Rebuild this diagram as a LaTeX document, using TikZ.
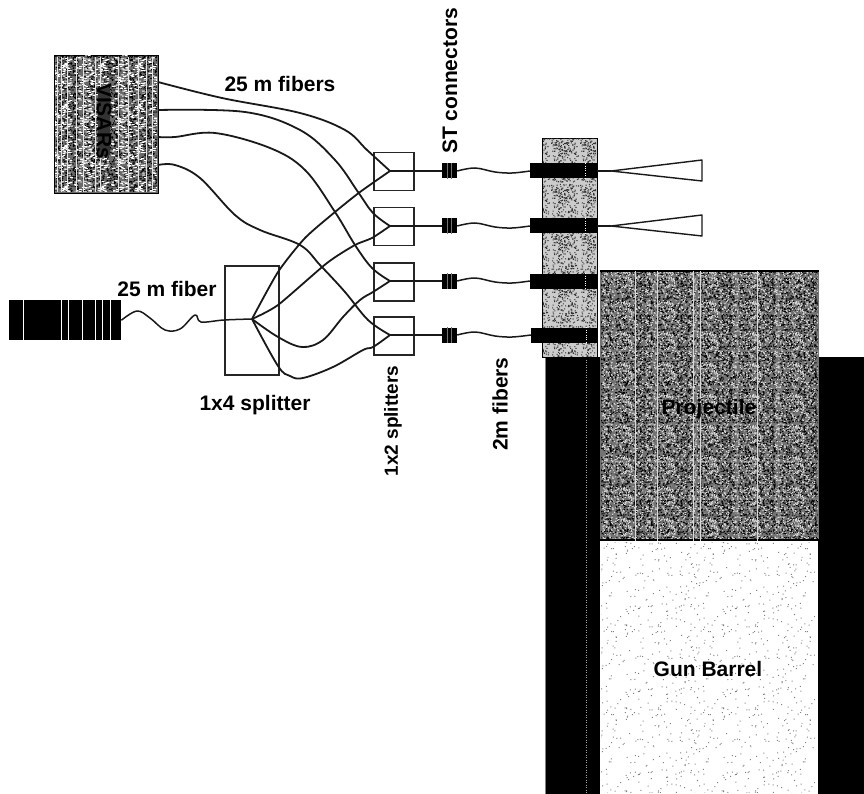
\documentclass[tikz,border=0pt]{standalone}
\usepackage{fontspec}
\setmainfont{Liberation Sans}
\usetikzlibrary{patterns}
% name, tile width, tile height, count, speck width, speck height
\newcommand{\rsNoise}[6]{\pgfdeclarepatternformonly{#1}{\pgfqpoint{0pt}{0pt}}{\pgfqpoint{#2pt}{#3pt}}{\pgfqpoint{#2pt}{#3pt}}{%
  \foreach \i in {1,...,#4}{%
    \pgfmathsetmacro\rsxa{rnd*(#2-#5)}\pgfmathsetmacro\rsya{rnd*(#3-#6)}%
    \pgfpathrectangle{\pgfpoint{\rsxa pt}{\rsya pt}}{\pgfqpoint{#5pt}{#6pt}}\pgfusepath{fill}}}}
\rsNoise{rsdark}{41}{37}{380}{1.2}{1.1}
\rsNoise{rslight}{43}{31}{240}{1.2}{1.1}
\rsNoise{rswide}{37}{41}{170}{2.6}{1}
\rsNoise{rsgrain}{29}{47}{260}{1.1}{1.1}
\rsNoise{rssparse}{97}{83}{170}{1}{1}
\tikzset{
  lab/.style={font=\fontsize{21}{24}\selectfont\bfseries,inner sep=0pt,text=black},
  fib/.style={draw=black!90,line width=1.8pt,line join=round},
  thin fib/.style={draw=black!90,line width=1.5pt,line join=round},
  sbox/.style={draw=black!85,line width=1.5pt,fill=white,minimum width=40pt,minimum height=38pt,inner sep=0pt},
  conn/.style={fill=black,draw=none,minimum width=15pt,minimum height=15pt,inner sep=0pt},
  plug/.style={fill=black,draw=none,minimum width=67pt,minimum height=15pt,inner sep=0pt},
  cone/.style={draw=black!90,line width=1.4pt,fill=white,line join=round},
  wl/.style={draw=white,line width=.9pt}
}
\begin{document}
\begin{tikzpicture}[x=1pt,y=-1pt]
\useasboundingbox (0,0) rectangle (864,794);
\pgfmathsetseed{4711}
% barrel walls
\fill[black] (545,357) rectangle (600,794);
\fill[black] (818,357) rectangle (864,794);
\draw[gray,line width=.8pt] (545.4,357) -- (545.4,794);
\draw[gray!70,line width=.5pt,dotted] (586,357) -- (586,794);
% collar
\node[draw=black,line width=1.3pt,fill=black!20,minimum width=55pt,minimum height=219pt,inner sep=0pt,anchor=north west] (collar) at (542,138) {};
\fill[pattern=rsgrain,pattern color=black!80] (543,139) rectangle (596,356);
% projectile
\node[fill=black!55,minimum width=219pt,minimum height=270pt,inner sep=0pt,anchor=north west] (proj) at (600,270) {};
\fill[pattern=rsdark,pattern color=black] (601,271) rectangle (818,539);
\fill[pattern=rslight,pattern color=white!85!black] (601,271) rectangle (818,539);
\draw[black,line width=2pt] (600,271) -- (819,271);
\draw[black,line width=2pt] (600,539.5) -- (819,539.5);
\foreach \x in {635,657,693,700,757}{\draw[white!85!black,line width=.8pt] (\x,271) -- (\x,542);}
% barrel
\node[fill=white,minimum width=216pt,minimum height=253pt,inner sep=0pt,anchor=north west] (barrel) at (600,541) {};
\fill[pattern=rssparse,pattern color=black!50] (601,542) rectangle (815,792);
% source box
\node[fill=black!58,draw=black,line width=1.3pt,minimum width=104pt,minimum height=138pt,inner sep=0pt,anchor=north west] (src) at (54,55) {};
\fill[pattern=rsdark,pattern color=black] (55,56) rectangle (157,192);
\fill[pattern=rswide,pattern color=white] (55,56) rectangle (157,192);
\foreach \x in {57,61,67,76,83,95,100,118,128,138,146,152}{\draw[white!90!black,line width=.8pt] (\x,57) -- (\x,192);}
\fill[black!80] (98,88) rectangle (110,155);
% laser box
\node[fill=black,minimum width=112pt,minimum height=40pt,inner sep=0pt,anchor=north west] (las) at (9,300) {};
\foreach \x in {23,61,68,82,95,102,110}{\draw[wl] (\x,300) -- (\x,340);}
% 1x4 splitter
\node[draw=black!85,line width=1.5pt,fill=white,minimum width=54pt,minimum height=109pt,inner sep=0pt,anchor=north west] (sfour) at (224,265) {};
\coordinate (hub) at (252,319);
% 1x2 splitters
\node[sbox,anchor=north west] (s1) at (373,152) {};
\node[sbox,anchor=north west] (s2) at (373,207) {};
\node[sbox,anchor=north west] (s3) at (373,262) {};
\node[sbox,anchor=north west] (s4) at (373,316) {};
\coordinate (t1) at (390,171);
\coordinate (t2) at (390,226);
\coordinate (t3) at (390,281);
\coordinate (t4) at (390,335);
% connectors and plugs
\node[conn] (c1) at (449.5,171) {};
\node[conn] (c2) at (449.5,226) {};
\node[conn] (c3) at (449.5,281) {};
\node[conn] (c4) at (449.5,335) {};
\node[plug] (p1) at (563.5,171) {};
\node[plug] (p2) at (563.5,226) {};
\node[plug] (p3) at (563.5,281) {};
\node[plug] (p4) at (564.5,335) {};
\foreach \p in {p1,p2,p3,p4}{\draw[white,line width=.4pt,dotted] ([xshift=22pt]\p.north) -- ([xshift=22pt]\p.south);}
\foreach \p in {c1,c2,c3,c4}{\draw[black!55,line width=.4pt] ([xshift=-2pt]\p.north) -- ([xshift=-2pt]\p.south);\draw[black!55,line width=.4pt] ([xshift=2pt]\p.north) -- ([xshift=2pt]\p.south);}
% cones
\node[coordinate] (k1) at (611,171) {};
\node[coordinate] (k2) at (611,226) {};
\draw[cone] (k1) -- (702,160) -- (702,181) -- cycle;
\draw[cone] (k2) -- (702,215) -- (702,236) -- cycle;
\draw[thin fib] (p1.east) -- (k1);
\draw[thin fib] (p2.east) -- (k2);
% fibers: source to 1x2
\coordinate (a1) at (158,82);
\coordinate (a2) at (158,110);
\coordinate (a3) at (158,137);
\coordinate (a4) at (158,165);
\draw[fib] plot[smooth,tension=.6] coordinates {(a1) (222,98) (300,113) (345,130) (367,150) (t1)};
\draw[fib] plot[smooth,tension=.6] coordinates {(a2) (245,112) (300,130) (335,160) (358,192) (373,213) (t2)};
\draw[fib] plot[smooth,tension=.6] coordinates {(a3) (175,137) (215,133) (270,148) (305,170) (335,212) (355,245) (372,268) (t3)};
\draw[fib] plot[smooth,tension=.6] coordinates {(a4) (175,165) (200,178) (235,215) (260,230) (300,245) (320,265) (345,292) (368,320) (t4)};
% fibers: 1x4 to 1x2
\draw[fib] plot[smooth,tension=.4] coordinates {(hub) (278,272) (305,238) (335,212) (360,192) (t1)};
\draw[fib] plot[smooth,tension=.4] coordinates {(hub) (278,305) (327,263) (355,245) (372,238) (t2)};
\draw[fib] plot[smooth,tension=.6] coordinates {(hub) (278,337) (302,347) (323,340) (343,317) (360,300) (373,292) (t3)};
\draw[fib] plot[smooth,tension=.6] coordinates {(hub) (278,366) (290,376) (303,378) (333,367) (363,350) (373,347) (t4)};
% input fiber
\draw[thin fib] plot[smooth,tension=.6] coordinates {(las.east) (137,311) (150,318) (165,330) (180,329) (195,315) (201,322) (224,320) (hub)};
% output fibers
\foreach \i/\w in {1/171,2/226,3/281,4/335}{
  \draw[thin fib] (t\i) -- (c\i.west);
  \pgfmathsetmacro\wa{\w-3}\pgfmathsetmacro\wb{\w+1}\pgfmathsetmacro\wc{\w+2}
  \draw[thin fib] plot[smooth,tension=.6] coordinates {(c\i.east) (475,\wa) (495,\wb) (512,\wc) (p\i.west)};
}
% labels
\node[lab] (l1) at (280,84) {25 m fibers};
\node[lab] (l2) at (167,289) {25 m fiber};
\node[lab] (l3) at (255,405) {1x4 splitter};
\node[lab,rotate=90] (l4) at (450,81) {ST connectors};
\node[lab,rotate=90,font=\fontsize{19}{24}\selectfont\bfseries] (l5) at (393,421) {1x2 splitters};
\node[lab,rotate=90] (l6) at (500,404) {2m fibers};
\node[lab] (l7) at (709,409) {Projectile};
\node[lab] (l8) at (708,669) {Gun Barrel};
\node[lab,rotate=-90] (l9) at (104,121) {VISARs};
\end{tikzpicture}
\end{document}
